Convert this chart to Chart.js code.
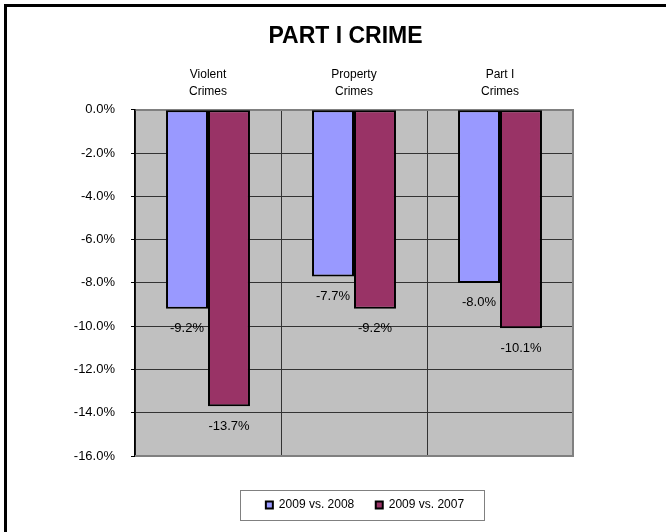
<!DOCTYPE html>
<html lang="en">
<head>
  <meta charset="UTF-8">
  <title>Part I Crime</title>
  <script src="https://cdn.jsdelivr.net/npm/chart.js"></script>
  <style>
    html, body { margin: 0; padding: 0; background: #fff; overflow: hidden; }
    #wrap { position: relative; width: 666px; height: 532px; }
    #frame { position: absolute; left: 4px; top: 4px; width: 700px; height: 600px; border: 3px solid #000; pointer-events: none; }
  </style>
</head>
<body>

<div id="wrap">
  <canvas id="crimeChart" width="666" height="532"></canvas>
  <div id="frame"></div>
</div>

<script>
  const categories = [['Violent', 'Crimes'], ['Property', 'Crimes'], ['Part I', 'Crimes']];
  const seriesNames = ['2009 vs. 2008', '2009 vs. 2007'];
  const vs2008 = [-9.2, -7.7, -8.0];
  const vs2007 = [-13.7, -9.2, -10.1];
  const yTicks = [0, -2, -4, -6, -8, -10, -12, -14, -16];

  const font = "'Liberation Sans', Arial, sans-serif";

  // grey plot area + right/bottom border like the spreadsheet
  const plotArea = {
    id: 'plotArea',
    beforeDraw(chart) {
      const a = chart.chartArea, ctx = chart.ctx;
      ctx.save();
      ctx.fillStyle = '#C0C0C0';
      ctx.fillRect(a.left, a.top, a.right - a.left, a.bottom - a.top);
      ctx.restore();
    },
    afterDatasetsDraw(chart) {
      const a = chart.chartArea, ctx = chart.ctx;
      ctx.save();
      ctx.strokeStyle = '#808080';
      ctx.lineWidth = 2;
      ctx.beginPath();
      ctx.moveTo(a.left, a.bottom);
      ctx.lineTo(a.right, a.bottom);
      ctx.lineTo(a.right, a.top);
      ctx.stroke();

      // value labels under the bar ends
      ctx.fillStyle = '#000';
      ctx.font = '13px ' + font;
      ctx.textAlign = 'center';
      ctx.textBaseline = 'middle';
      chart.data.datasets.forEach((ds, i) => {
        chart.getDatasetMeta(i).data.forEach((bar, j) => {
          ctx.fillText(ds.data[j].toFixed(1) + '%', bar.x, bar.y + 20);
        });
      });
      ctx.restore();
    },
    afterLayout(chart) {
      const lg = chart.legend;
      const dy = 477.5 - lg.top;
      lg.top += dy; lg.bottom += dy;
      lg.left += 11; lg.right += 11;
      // title sits over the middle of the page, not the layout box
      chart.titleBlock.left += 59;
      chart.titleBlock.right += 59;
    },
    afterDraw(chart) {
      const hb = chart.legend.legendHitBoxes;
      if (!hb || !hb.length) return;
      const last = hb[hb.length - 1];
      const cy = hb[0].top + hb[0].height / 2;
      const ctx = chart.ctx;
      ctx.save();
      ctx.strokeStyle = '#808080';
      ctx.lineWidth = 1;
      ctx.strokeRect(Math.round(hb[0].left - 26) + 0.5, Math.round(cy - 15) + 0.5,
        Math.round(last.left + last.width + 20 - (hb[0].left - 26)), 30);
      ctx.restore();
    }
  };

  new Chart(document.getElementById('crimeChart'), {
    type: 'bar',
    data: {
      labels: categories,
      datasets: [{
        label: seriesNames[0],
        data: vs2008,
        backgroundColor: '#9999FF',
        borderColor: '#000',
        borderWidth: 2,
        borderSkipped: false
      }, {
        label: seriesNames[1],
        data: vs2007,
        backgroundColor: '#993366',
        borderColor: '#000',
        borderWidth: 2,
        borderSkipped: false
      }]
    },
    options: {
      responsive: false,
      animation: false,
      layout: { padding: { left: 0, right: 93, top: 0, bottom: 32.5 } },
      datasets: { bar: { categoryPercentage: 0.575, barPercentage: 1 } },
      plugins: {
        title: {
          display: true,
          text: 'PART I CRIME',
          color: '#000',
          font: { family: font, size: 23, weight: 'bold', lineHeight: 1.2 },
          padding: { top: 23.2, bottom: 9.2 }
        },
        legend: {
          position: 'bottom',
          fullSize: false,
          labels: {
            color: '#000',
            font: { family: font, size: 12 },
            boxWidth: 7,
            boxHeight: 7,
            padding: 21.5
          }
        },
        tooltip: { enabled: false }
      },
      scales: {
        x: {
          position: 'top',
          grid: { color: '#333', lineWidth: 1, drawTicks: false },
          border: { color: '#808080', width: 2 },
          ticks: { color: '#000', font: { family: font, size: 12, lineHeight: 1.4 }, padding: 9.6, maxRotation: 0 },
          afterFit(scale) { scale.height = 49.8; }
        },
        y: {
          min: yTicks[yTicks.length - 1],
          max: yTicks[0],
          afterBuildTicks(scale) { scale.ticks = yTicks.map(v => ({ value: v })); },
          grid: { color: '#333', lineWidth: 1, tickLength: 4, tickColor: '#000' },
          border: { color: '#000', width: 1.5 },
          ticks: {
            color: '#000',
            font: { family: font, size: 13 },
            padding: 16,
            callback: v => v.toFixed(1) + '%'
          },
          afterFit(scale) { scale.width = 135; }
        }
      }
    },
    plugins: [plotArea]
  });
</script>

</body>
</html>
